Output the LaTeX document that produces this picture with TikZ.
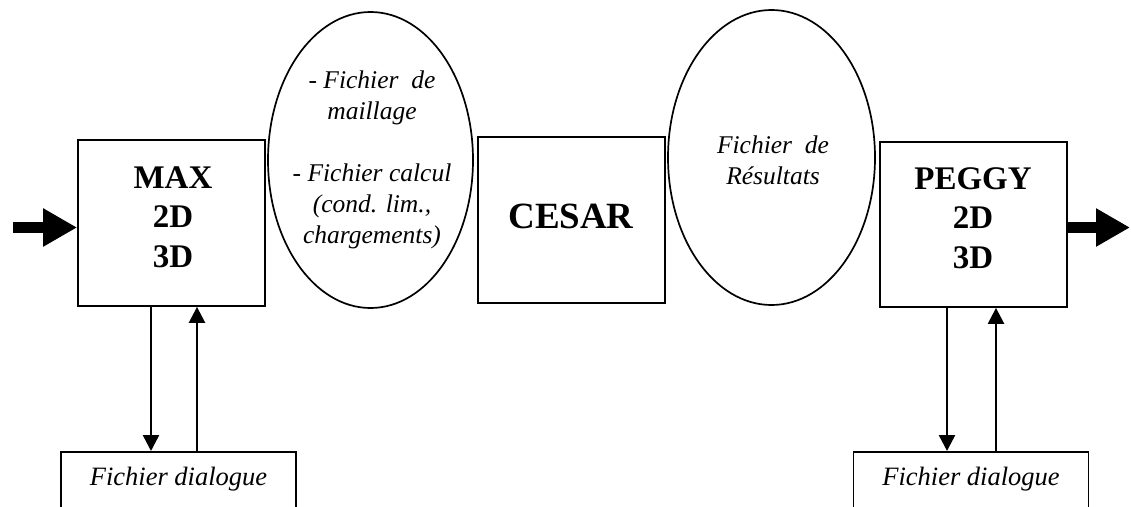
\documentclass[tikz,border=0pt]{standalone}
\usepackage{fontspec}
\setmainfont{Liberation Serif}
\usetikzlibrary{shapes.geometric,arrows.meta}
\begin{document}
\begin{tikzpicture}[x=1pt,y=-1pt,
  box/.style={draw, line width=1.8pt, rectangle, inner sep=0pt},
  oval/.style={draw, line width=1.7pt, ellipse, inner sep=0pt},
  boldlbl/.style={font=\fontsize{33}{39.5}\selectfont\bfseries, align=center, inner sep=0pt},
  itallbl/.style={font=\fontsize{25.5}{31}\selectfont\itshape, align=center, inner sep=0pt},
  dlgbox/.style={box, anchor=north, minimum width=235pt, text height=18pt, text depth=30pt, inner ysep=16pt, font=\fontsize{26.5}{30}\selectfont\itshape},
  fatarrow/.style={line width=11pt, -{Triangle[length=34pt,width=36pt]}},
  slimarrow/.style={line width=2.5pt, -{Triangle[length=16pt,width=16pt]}}]
\clip (0,0) rectangle (1131,506);
% main boxes
\node[box, minimum width=187pt, minimum height=166pt] (max) at (171.5,223) {};
\node[box, minimum width=187pt, minimum height=166pt] (cesar) at (571.5,220) {};
\node[box, minimum width=187pt, minimum height=165pt] (peggy) at (973.5,224.5) {};
% ellipses
\node[oval, minimum width=205pt, minimum height=296pt] (mesh) at (370.5,160) {};
\node[oval, minimum width=207pt, minimum height=295pt] (res) at (771.5,157.5) {};
% labels
\node[boldlbl] (maxt) at (173,217) {MAX\\2D\\3D};
\node[boldlbl] (peggyt) at (973,218) {PEGGY\\2D\\3D};
\node[font=\fontsize{37}{40}\selectfont\bfseries, anchor=base, inner sep=0pt] (cesart) at (571,228) {CESAR};
\node[itallbl] (mesht) at (372,160) {- Fichier\ \ de\\maillage\\[31pt]- Fichier calcul\\(cond. lim.,\\chargements)};
\node[itallbl] (rest) at (773,160) {Fichier\ \ de\\Résultats};
% dialogue boxes
\node[dlgbox] (dlgA) at (178.5,451) {Fichier dialogue};
\node[dlgbox] (dlgB) at (971,451) {Fichier dialogue};
% thick in/out arrows
\coordinate (inL) at (13,227.5);
\coordinate (outR) at (1130,227.5);
\draw[fatarrow] (inL) -- (inL -| max.west);
\draw[fatarrow] (outR -| peggy.east) -- (outR);
% dialogue arrows
\draw[slimarrow] ([xshift=-20.5pt]max.south) -- ([xshift=-20.5pt]max.south |- dlgA.north);
\draw[slimarrow] ([xshift=25.5pt]max.south |- dlgA.north) -- ([xshift=25.5pt]max.south);
\draw[slimarrow] ([xshift=-26.5pt]peggy.south) -- ([xshift=-26.5pt]peggy.south |- dlgB.north);
\draw[slimarrow] ([xshift=22.5pt]peggy.south |- dlgB.north) -- ([xshift=22.5pt]peggy.south);
\end{tikzpicture}
\end{document}
